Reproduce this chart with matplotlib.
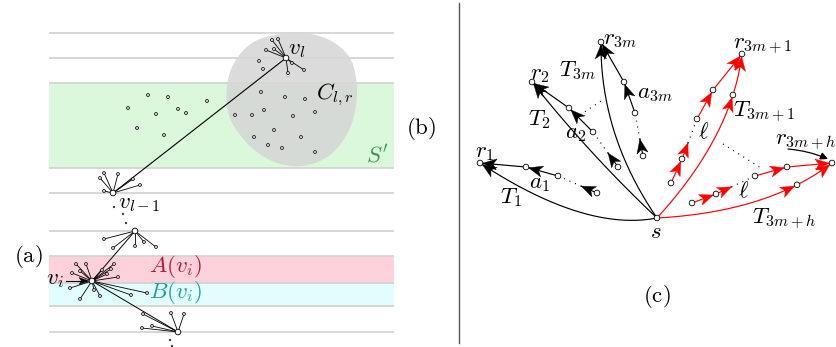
import numpy as np
import matplotlib
matplotlib.use("Agg")
import matplotlib.pyplot as plt
from matplotlib.path import Path
from matplotlib.patches import PathPatch, Polygon, Circle, Rectangle

plt.rcParams['mathtext.fontset'] = 'cm'
plt.rcParams['font.family'] = ['DejaVu Serif']

# ---------------- data (pixel coordinates of the diagram) ----------------
# panel (a)/(b): horizontal level lines and bands
level_lines = [33, 58, 83, 168, 193, 231, 256, 283, 306, 332]
band_green = (83, 168)
band_pink = (256, 283)
band_cyan = (283, 306)

blob_outline = [(290, 33), (325, 38), (350, 58), (357, 92), (350, 128), (330, 155),
                (302, 166), (272, 161), (246, 142), (228, 112), (230, 72), (252, 43)]

v_l = (286, 58)
v_l_leaves = [(266, 50), (272, 40), (278, 39), (274, 49), (288, 73), (304, 70), (292, 63)]
free_points = [(148, 95), (168, 97), (207, 101), (128, 108), (156, 114), (178, 109), (186, 113),
               (137, 128), (164, 135), (259, 61), (263, 69), (261, 92), (285, 97), (305, 99),
               (315, 112), (264, 110), (252, 115), (235, 115), (293, 116), (274, 130), (301, 137),
               (254, 137), (268, 145), (282, 148), (315, 152)]
v_lm1 = (113, 193)
v_lm1_leaves = [(104, 173), (118, 174), (100, 178), (133, 179), (140, 185), (104, 191)]
gap_dots = [(114, 207), (123, 214), (126, 223), (170, 340), (172, 346)]
w_node = (135, 231)
w_leaves = [(104, 239), (113, 248), (135, 246), (144, 242), (156, 247)]
v_i = (92, 281)
v_i_leaves = [(76, 264), (86, 264), (72, 273), (80, 271), (102, 270), (111, 269), (114, 264),
              (118, 277), (107, 274), (70, 288), (80, 299), (94, 290), (100, 296), (131, 295), (147, 293)]
v_b = (178, 332)
v_b_leaves = [(143, 314), (152, 326), (142, 328), (171, 313), (184, 314)]

# panel (c)
s_node = (657, 218)
roots = {'r1': (480, 163), 'r2': (532, 82), 'r3m': (601, 42), 'r3m1': (742, 54), 'r3mh': (832, 163)}
chain_a1 = [(480, 163), (526, 167), (558, 176), (597, 193)]
chain_a2 = [(532, 82), (569, 108), (593, 132), (618, 167)]
chain_a3m = [(601, 42), (624, 82), (635, 113), (643, 156)]
chain_up = [(742, 54), (713, 90), (697, 119), (682, 159), (671, 183)]
chain_low = [(832, 163), (787, 167), (755, 176), (716, 194), (692, 203)]
ctrl_T1 = (585, 232)
ctrl_T2 = (590, 155)
ctrl_T3m = (600, 135)
ctrl_T3m1 = (732, 136)
ctrl_T3mh = (768, 212)

# ---------------- figure ----------------
fig = plt.figure(figsize=(8.36, 3.47), dpi=100)
ax = fig.add_axes([0, 0, 1, 1])
ax.set_xlim(0, 836)
ax.set_ylim(347, 0)
ax.set_aspect('auto')
ax.axis('off')

X0, X1 = 49, 394
for (y0, y1), col in [(band_green, '#dbf7dc'), (band_pink, '#ffd1db'), (band_cyan, '#e2fdfd')]:
    ax.add_patch(Rectangle((X0, y0), X1 - X0, y1 - y0, facecolor=col, edgecolor='none', zorder=0))
for y in level_lines:
    ax.plot([X0, X1], [y, y], color='#d4d4d4', lw=1.3, zorder=1, solid_capstyle='butt')


def smooth_closed(points):
    P = np.array(points, float)
    n = len(P)
    verts = [P[0]]
    codes = [Path.MOVETO]
    for i in range(n):
        p0, p1, p2, p3 = P[i - 1], P[i], P[(i + 1) % n], P[(i + 2) % n]
        c1 = p1 + (p2 - p0) / 6.0
        c2 = p2 - (p3 - p1) / 6.0
        verts += [c1, c2, p2]
        codes += [Path.CURVE4] * 3
    return Path(verts, codes)


ax.add_patch(PathPatch(smooth_closed(blob_outline), facecolor='#d6d6d6', edgecolor='none',
                       alpha=0.88, zorder=2))


def node(p, r, z=5):
    ax.add_patch(Circle(p, r, facecolor='white', edgecolor='black', lw=0.6, zorder=z))


def star(center, leaves, lw=0.6):
    for q in leaves:
        ax.plot([center[0], q[0]], [center[1], q[1]], color='black', lw=lw, zorder=3)
        node(q, 1.4)
    node(center, 2.8)


for p in free_points:
    node(p, 1.4)
ax.plot([v_l[0], v_lm1[0]], [v_l[1], v_lm1[1]], color='black', lw=0.8, zorder=3)
ax.plot([w_node[0], v_i[0]], [w_node[1], v_i[1]], color='black', lw=0.7, zorder=3)
ax.plot([v_i[0], v_b[0]], [v_i[1], v_b[1]], color='black', lw=0.7, zorder=3)
star(v_l, v_l_leaves)
star(v_lm1, v_lm1_leaves)
star(w_node, w_leaves)
star(v_i, v_i_leaves)
star(v_b, v_b_leaves)
for p in gap_dots:
    ax.add_patch(Circle(p, 0.45, color='#333333', zorder=3))


def head(tip, frm, color='black', L=14, hw=5.6, notch=3.8, z=6):
    tip = np.array(tip, float)
    frm = np.array(frm, float)
    u = tip - frm
    u /= np.hypot(*u)
    n = np.array([-u[1], u[0]])
    back = tip - u * L
    poly = [tip, back + n * hw, tip - u * (L - notch), back - n * hw]
    ax.add_patch(Polygon(poly, closed=True, facecolor=color, edgecolor=color, lw=0.3, zorder=z))


# arrow into v_i
ax.plot([66, 86], [281, 281], color='black', lw=0.8, zorder=3)
head((89, 281), (66, 281), L=10, hw=3.5, notch=2.5)

# separator
ax.plot([459, 459], [3, 343], color='#555555', lw=1.0)

# ---------------- panel (c) ----------------
R = 2.8


def bez(p0, c, p1, t):
    p0, c, p1 = map(lambda a: np.array(a, float), (p0, c, p1))
    t = np.asarray(t)[:, None]
    return (1 - t) ** 2 * p0 + 2 * t * (1 - t) * c + t ** 2 * p1


def tree_curve(ctrl, root, color, mid_t=None):
    t = np.linspace(0, 1, 200)
    pts = bez(s_node, ctrl, root, t)
    ax.plot(pts[:, 0], pts[:, 1], color=color, lw=0.85, zorder=3)
    tang = np.array(root, float) - np.array(ctrl, float)
    tang /= np.hypot(*tang)
    tip = np.array(root, float) - tang * R
    head(tip, tip - tang, color=color)
    if mid_t is not None:
        q = bez(s_node, ctrl, root, [mid_t, mid_t - 0.01])
        d = q[0] - q[1]
        d /= np.hypot(*d)
        tip = q[0] - d * R
        head(tip, tip - d, color=color)
        node(q[0], R)


def chain(nodes, color, dotted_index):
    # nodes ordered from root outward; arrows point toward root
    for k in range(1, len(nodes)):
        a = np.array(nodes[k], float)
        b = np.array(nodes[k - 1], float)
        u = b - a
        dist = np.hypot(*u)
        u /= dist
        if k == dotted_index:
            tip = a + u * 17
            ax.plot([a[0], tip[0]], [a[1], tip[1]], color=color, lw=0.85, zorder=3)
            ax.plot([tip[0], b[0] - u[0] * 4], [tip[1], b[1] - u[1] * 4], color='black',
                    lw=0.9, ls=(0, (0.8, 4)), zorder=3)
            head(tip, a, color=color)
        else:
            tip = b - u * R
            ax.plot([a[0], b[0]], [a[1], b[1]], color=color, lw=0.85, zorder=3)
            head(tip, a, color=color)
    for p in nodes:
        node(p, R)


tree_curve(ctrl_T1, roots['r1'], 'black')
tree_curve(ctrl_T2, roots['r2'], 'black')
tree_curve(ctrl_T3m, roots['r3m'], 'black')
tree_curve(ctrl_T3m1, roots['r3m1'], '#ff0000', mid_t=0.75)
tree_curve(ctrl_T3mh, roots['r3mh'], '#ff0000', mid_t=0.75)

chain(chain_a1, 'black', 3)
chain(chain_a2, 'black', 3)
chain(chain_a3m, 'black', 3)
chain(chain_up, '#ff0000', 3)
chain(chain_low, '#ff0000', 3)

ax.plot([580, 604], [115, 99], color='black', lw=0.9, ls=(0, (0.8, 4)), zorder=3)
ax.plot([723, 761], [144, 168], color='black', lw=0.9, ls=(0, (0.8, 4)), zorder=3)

ax.annotate('', xy=(828, 159), xytext=(788, 149),
            arrowprops=dict(arrowstyle='-|>', color='black', lw=0.9, mutation_scale=11,
                            connectionstyle='arc3,rad=-0.08', shrinkA=0, shrinkB=0))
node(s_node, R)

# ---------------- text ----------------
FS = 16.5
def T(x, y, s, color='black', fs=FS, ha='center'):
    ax.text(x, y, s, color=color, fontsize=fs, ha=ha, va='center', zorder=8)

T(28, 256, r'$\mathrm{(a)}$')
T(421, 128, r'$\mathrm{(b)}$')
T(657, 296, r'$\mathrm{(c)}$')
T(288, 49, r'$v_l$', ha='left')
T(118, 203, r'$v_{l-1}$', ha='left')
T(316, 95, r'$C_{l,r}$', ha='left')
T(366, 156, r"$S'$", color='#3a9a55', ha='left')
T(149, 267, r'$A(v_i)$', color='#b31b30', ha='left')
T(149, 293, r'$B(v_i)$', color='#1f9a9a', ha='left')
T(46, 279, r'$v_i$', ha='left')

T(485, 152, r'$r_1$')
T(511, 198, r'$T_1$')
T(539, 183, r'$a_1$')
T(540, 74, r'$r_2$')
T(539, 120, r'$T_2$')
T(576, 133, r'$a_2$')
T(577, 71, r'$T_{3m}$')
T(603, 39, r'$r_{3m}$', ha='left')
T(637, 93, r'$a_{3m}$', ha='left')
T(733, 46, r'$r_{3m+1}$', ha='left')
T(733, 112, r'$T_{3m+1}$', ha='left')
T(704, 132, r'$\ell$')
T(744, 191, r'$\ell$')
T(775, 142, r'$r_{3m+h}$', ha='left')
T(752, 219, r'$T_{3m+h}$', ha='left')
T(656, 232, r'$s$')

fig.savefig('out.png', dpi=100)
